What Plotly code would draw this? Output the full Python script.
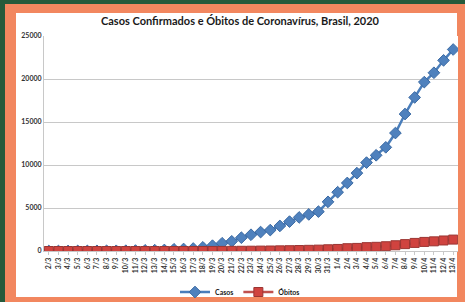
import plotly.graph_objects as go

datas = [f"{d}/3" for d in range(2, 32)] + [f"{d}/4" for d in range(1, 14)]
casos = [2, 2, 3, 8, 13, 19, 25, 25, 34, 52, 77, 98, 121, 200, 234, 291, 428, 621,
         904, 1128, 1546, 1891, 2201, 2433, 2915, 3417, 3904, 4256, 4579, 5717,
         6836, 7910, 9056, 10278, 11130, 12056, 13717, 15927, 17857, 19638,
         20727, 22169, 23430]
obitos = [0, 0, 0, 0, 0, 0, 0, 0, 0, 0, 0, 0, 0, 0, 0, 1, 4, 7, 11, 18, 25, 34,
          46, 57, 77, 92, 114, 136, 159, 201, 240, 324, 359, 445, 486, 553, 667,
          800, 941, 1056, 1124, 1223, 1328]
y_ticks = [0, 5000, 10000, 15000, 20000, 25000]

W, H = 465, 302
L, R, T, B = 44, 458, 36, 251


def px(x):
    return (x - L) / (R - L)


def py(y):
    return (B - y) / (B - T)


fig = go.Figure()
fig.add_trace(go.Scatter(
    x=datas, y=casos, name="Casos", mode="lines+markers",
    line=dict(color="#4a7ebb", width=2.5),
    marker=dict(symbol="diamond", size=9, color="#4f81bd",
                line=dict(color="#3b6aa3", width=1)),
))
fig.add_trace(go.Scatter(
    x=datas, y=obitos, name="Óbitos", mode="lines+markers",
    line=dict(color="#c0504d", width=2.5),
    marker=dict(symbol="square", size=9, color="#d0433f",
                line=dict(color="#9b3532", width=1)),
))

shapes = [
    dict(type="rect", xref="paper", yref="paper", x0=px(0), x1=px(W), y0=py(0), y1=py(4),
         fillcolor="#255a3b", line_width=0, layer="below"),
    dict(type="rect", xref="paper", yref="paper", x0=px(0), x1=px(5), y0=py(0), y1=py(H),
         fillcolor="#255a3b", line_width=0, layer="below"),
    dict(type="rect", xref="paper", yref="paper", x0=px(16), x1=px(457), y0=py(13), y1=py(297),
         fillcolor="white", line_width=0, layer="below"),
]

fig.update_layout(
    width=W, height=H,
    margin=dict(l=L, r=W - R, t=T, b=H - B, autoexpand=False),
    paper_bgcolor="#f2875f",
    plot_bgcolor="white",
    shapes=shapes,
    showlegend=True,
    title=dict(text="Casos Confirmados e Óbitos de Coronavírus, Brasil, 2020",
               x=px(240), xanchor="center", xref="paper", y=1 - 21 / H, yanchor="middle",
               font=dict(family="Lato", size=11, color="#1a1a1a", weight="bold")),
    legend=dict(orientation="h", x=px(240), xanchor="center", y=py(292), yanchor="middle",
                font=dict(family="Lato", size=7, color="#1a1a1a", weight="bold"),
                bgcolor="rgba(0,0,0,0)", itemwidth=30, tracegroupgap=0),
    xaxis=dict(type="category", range=[-0.5, len(datas) - 0.5], automargin=False,
               tickangle=-90, tickfont=dict(family="Lato", size=7, color="#333", weight="bold"),
               showgrid=False, showline=True, linecolor="#c8c8c8", linewidth=1,
               ticks="outside", ticklen=3, tickcolor="#c8c8c8", zeroline=False),
    yaxis=dict(range=[0, 25000], tickvals=y_ticks, ticktext=[str(v) for v in y_ticks],
               automargin=False,
               tickfont=dict(family="Lato", size=7, color="#333", weight="bold"),
               showgrid=True, gridcolor="#c8c8c8", gridwidth=1,
               showline=True, linecolor="#c8c8c8", zeroline=False, ticks=""),
)

fig.write_html("out.html", config={"displayModeBar": False},
               post_script="document.body.style.margin='0';document.body.style.padding='0';"
                           "document.body.style.overflow='hidden';")
